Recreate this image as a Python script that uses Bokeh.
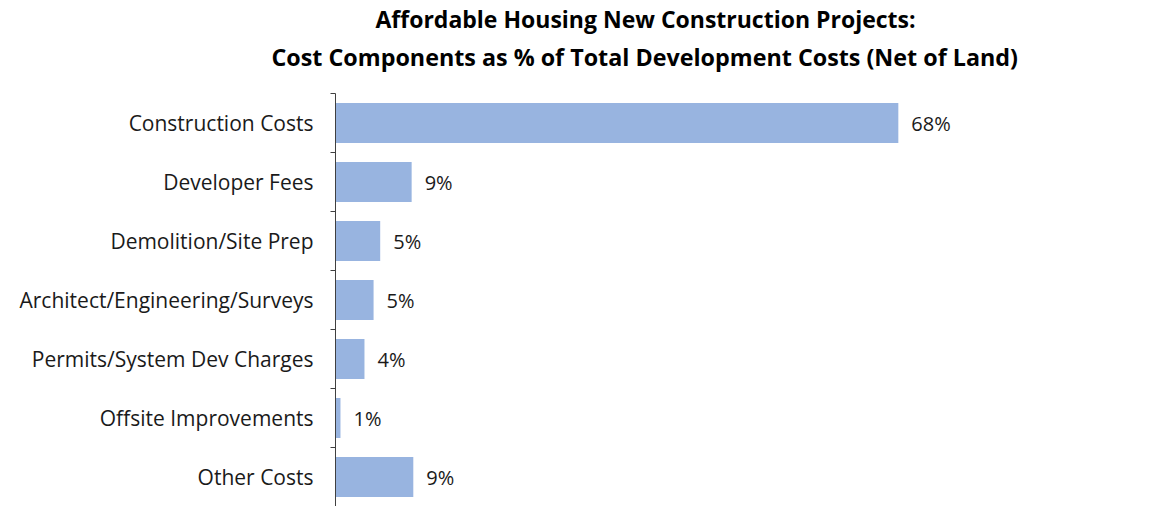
from bokeh.plotting import figure
from bokeh.models import ColumnDataSource, FixedTicker, Title, Range1d
from bokeh.core.properties import value
from bokeh.embed import file_html
from bokeh.resources import INLINE

title_lines = ["Affordable Housing New Construction Projects:",
               "Cost Components  as % of Total  Development Costs (Net of Land)"]
categories = ["Construction Costs", "Developer Fees", "Demolition/Site Prep",
              "Architect/Engineering/Surveys", "Permits/System Dev Charges",
              "Offsite Improvements", "Other Costs"]
values = [68.0, 9.2, 5.4, 4.6, 3.5, 0.6, 9.4]
labels = ["68%", "9%", "5%", "5%", "4%", "1%", "9%"]

n = len(categories)
ypos = [n - i - 0.5 for i in range(n)]
src = ColumnDataSource(dict(y=ypos, v=values, lab=labels, cat=categories))

FONT = "Open Sans"
p = figure(width=1152, height=506, output_backend="svg", toolbar_location=None,
           x_range=Range1d(0, 97.5), y_range=Range1d(0, n),
           min_border_left=335, min_border_right=10, min_border_bottom=0,
           min_border_top=0)

# spacer between plot area and the second title line
p.add_layout(Title(text=" ", text_font_size="1px", standoff=14), "above")
p.add_layout(Title(text=title_lines[1], align="left", offset=-64, text_font=FONT,
                   text_font_size="23.3px", text_font_style="bold", text_color="#000000",
                   standoff=8), "above")
p.title = Title(text=title_lines[0], align="left", offset=40, text_font=FONT,
                text_font_size="23px", text_font_style="bold", text_color="#000000",
                standoff=0)

p.hbar(y="y", right="v", left=0, height=0.68, source=src, color="#98B4E0", line_color=None)
p.text(x="v", y="y", text="lab", source=src, x_offset=13, text_baseline="middle",
       text_font=value(FONT), text_font_size="20px", text_color="#1a1a1a")

p.xaxis.visible = False
p.xgrid.visible = False
p.ygrid.visible = False
p.outline_line_color = None

ya = p.yaxis[0]
ya.ticker = FixedTicker(ticks=ypos, minor_ticks=list(range(n + 1)))
ya.major_label_overrides = {y: c for y, c in zip(ypos, categories)}
ya.major_tick_line_color = None
ya.major_tick_out = 0
ya.major_tick_in = 0
ya.minor_tick_out = 5
ya.minor_tick_in = 0
ya.minor_tick_line_color = "#404040"
ya.axis_line_color = "#404040"
ya.major_label_standoff = 17
ya.major_label_text_font = FONT
ya.major_label_text_font_size = "21px"
ya.major_label_text_color = "#1a1a1a"

open("out.html", "w").write(file_html(p, INLINE))
